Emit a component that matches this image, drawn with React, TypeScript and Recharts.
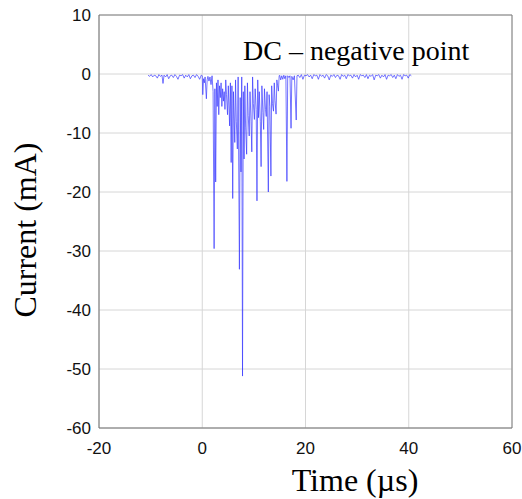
import {
  CartesianGrid,
  Line,
  LineChart,
  ReferenceLine,
  XAxis,
  YAxis,
} from "recharts";

// [time (µs), current (mA)]
const preTrigger: [number, number][] = [
  [-10.5, -0.2], [-10.2, -0.4], [-9.9, -0.1], [-9.6, -0.5], [-9.3, -0.2], [-9.0, -0.3],
  [-8.7, -0.7], [-8.4, -0.1], [-8.1, -0.4], [-7.8, -0.2], [-7.6, -1.6], [-7.4, -0.2],
  [-7.1, -0.5], [-6.8, -0.1], [-6.5, -0.8], [-6.2, -0.3], [-5.9, -0.2], [-5.6, -0.6],
  [-5.3, -0.1], [-5.0, -0.4], [-4.7, -0.9], [-4.4, -0.2], [-4.1, -0.3], [-3.8, -0.1],
  [-3.5, -0.7], [-3.2, -0.2], [-2.9, -0.5], [-2.6, -0.1], [-2.3, -0.8], [-2.0, -0.3],
  [-1.7, -0.2], [-1.4, -0.6], [-1.1, -0.1], [-0.8, -0.4], [-0.5, -0.9], [-0.2, -0.2],
];

const discharge: [number, number][] = [
  [0.0, -0.3], [0.1, -3.5], [0.25, -0.8], [0.4, -1.5], [0.55, -0.5], [0.8, -4.2],
  [0.95, -1.0], [1.1, -0.4], [1.3, -1.2], [1.5, -0.5], [1.7, -1.8], [1.9, -0.3],
  [2.1, -3.0], [2.3, -29.6], [2.45, -2.5], [2.6, -18.3], [2.75, -1.5], [2.9, -5.5],
  [3.05, -1.0], [3.2, -6.9], [3.35, -2.0], [3.5, -4.0], [3.65, -1.5], [3.8, -5.5],
  [3.95, -2.5], [4.1, -4.6], [4.25, -3.0], [4.4, -6.0], [4.55, -1.0], [4.7, -3.5],
  [4.9, -6.9], [5.05, -2.0], [5.3, -8.8], [5.45, -1.5], [5.6, -15.0], [5.75, -2.0],
  [5.9, -21.1], [6.05, -3.0], [6.3, -11.6], [6.45, -1.0], [6.6, -8.0], [6.8, -12.7],
  [6.95, -0.5], [7.2, -33.1], [7.35, -4.0], [7.5, -16.6], [7.65, -0.5], [7.8, -51.2],
  [7.95, -3.0], [8.1, -14.4], [8.25, -2.0], [8.4, -9.0], [8.6, -13.6], [8.75, -1.5],
  [8.9, -7.0], [9.1, -10.5], [9.25, -3.0], [9.45, -8.0], [9.6, -13.2], [9.75, -0.5],
  [9.9, -5.0], [10.1, -7.7], [10.25, -2.5], [10.45, -6.0], [10.6, -21.5], [10.75, -1.0],
  [10.9, -7.4], [11.05, -3.0], [11.25, -8.0], [11.4, -15.7], [11.55, -2.0], [11.75, -6.5],
  [11.9, -9.4], [12.05, -2.5], [12.25, -6.0], [12.4, -7.2], [12.55, -3.0], [12.8, -20.0],
  [12.95, -3.5], [13.1, -5.5], [13.3, -17.3], [13.45, -2.0], [13.6, -5.0], [13.8, -6.3],
  [13.95, -1.5], [14.1, -4.5], [14.3, -6.8], [14.45, -1.0], [14.6, -2.0], [14.75, -2.9],
  [14.9, -0.3], [15.0, -0.2], [15.2, -1.0], [15.4, -0.3], [15.6, -0.9], [15.8, -0.2],
  [16.0, -0.8], [16.2, -0.3], [16.4, -18.2], [16.55, -0.3], [16.8, -0.6], [17.0, -0.3],
  [17.2, -9.2], [17.35, -0.4], [17.6, -1.0], [17.85, -0.3], [18.2, -7.8], [18.35, -0.3],
];

const postTrigger: [number, number][] = [
  [18.6, -0.2], [18.9, -0.6], [19.2, -0.1], [19.5, -0.9], [19.8, -0.2], [20.1, -0.3],
  [20.4, -0.1], [20.7, -0.5], [21.0, -0.2], [21.3, -0.8], [21.6, -0.1], [21.9, -0.3],
  [22.2, -0.2], [22.5, -0.9], [22.8, -0.1], [23.1, -0.4], [23.4, -0.2], [23.7, -0.7],
  [24.0, -0.1], [24.3, -0.3], [24.6, -1.0], [24.9, -0.2], [25.2, -0.4], [25.5, -0.1],
  [25.8, -0.6], [26.1, -0.2], [26.4, -0.3], [26.7, -0.9], [27.0, -0.1], [27.3, -0.4],
  [27.6, -0.2], [27.9, -0.8], [28.2, -0.1], [28.5, -0.3], [28.8, -0.2], [29.1, -0.7],
  [29.4, -0.1], [29.7, -0.5], [30.0, -0.2], [30.3, -0.9], [30.6, -0.1], [30.9, -0.3],
  [31.2, -0.2], [31.5, -0.6], [31.8, -0.1], [32.1, -0.8], [32.4, -0.2], [32.7, -0.4],
  [33.0, -0.1], [33.3, -1.0], [33.6, -0.2], [33.9, -0.3], [34.2, -0.1], [34.5, -0.7],
  [34.8, -0.2], [35.1, -0.5], [35.4, -0.1], [35.7, -0.9], [36.0, -0.2], [36.3, -0.3],
  [36.6, -0.1], [36.9, -0.6], [37.2, -0.2], [37.5, -0.8], [37.8, -0.1], [38.1, -0.4],
  [38.4, -0.2], [38.7, -0.9], [39.0, -0.1], [39.3, -0.3], [39.6, -0.2], [39.9, -0.7],
  [40.2, -0.1], [40.5, -0.3],
];

const xTicks = [-20, 0, 20, 40, 60];
const yTicks = [-60, -50, -40, -30, -20, -10, 0, 10];

const data = [...preTrigger, ...discharge, ...postTrigger].map(([t, i]) => ({ t, i }));

const tickStyle = { fill: "#111", fontSize: 17, fontFamily: "'Liberation Sans', Arial, sans-serif" };

export default function App() {
  return (
    <div style={{ position: "absolute", left: 0, top: 0, width: 522, height: 499, background: "#fff" }}>
      <LineChart width={522} height={499} data={data} margin={{ top: 15, right: 10, left: 0, bottom: 0 }}>
        <CartesianGrid stroke="#d6d6d6" strokeWidth={1} />
        <XAxis
          type="number"
          dataKey="t"
          domain={[-20, 60]}
          ticks={xTicks}
          height={71}
          tick={tickStyle}
          tickLine={false}
          tickMargin={8}
          axisLine={{ stroke: "#707070" }}
          interval={0}
        />
        <YAxis
          type="number"
          domain={[-60, 10]}
          ticks={yTicks}
          width={99}
          tick={tickStyle}
          tickLine={false}
          axisLine={{ stroke: "#707070" }}
          interval={0}
        />
        <ReferenceLine y={10} stroke="#808080" />
        <ReferenceLine x={60} stroke="#808080" />
        <Line
          type="linear"
          dataKey="i"
          stroke="#3a3aff"
          strokeWidth={0.7}
          dot={false}
          isAnimationActive={false}
        />
      </LineChart>
      <svg
        width={522}
        height={499}
        style={{ position: "absolute", left: 0, top: 0, pointerEvents: "none" }}
        fontFamily="'Liberation Serif', 'Times New Roman', serif"
        fill="#000"
      >
        <text x={243} y={60} fontSize={28}>DC – negative point</text>
        <text x={355} y={491} fontSize={32} textAnchor="middle">Time (µs)</text>
        <text x={36} y={230} fontSize={32} textAnchor="middle" transform="rotate(-90 36 230)">
          Current (mA)
        </text>
      </svg>
    </div>
  );
}
